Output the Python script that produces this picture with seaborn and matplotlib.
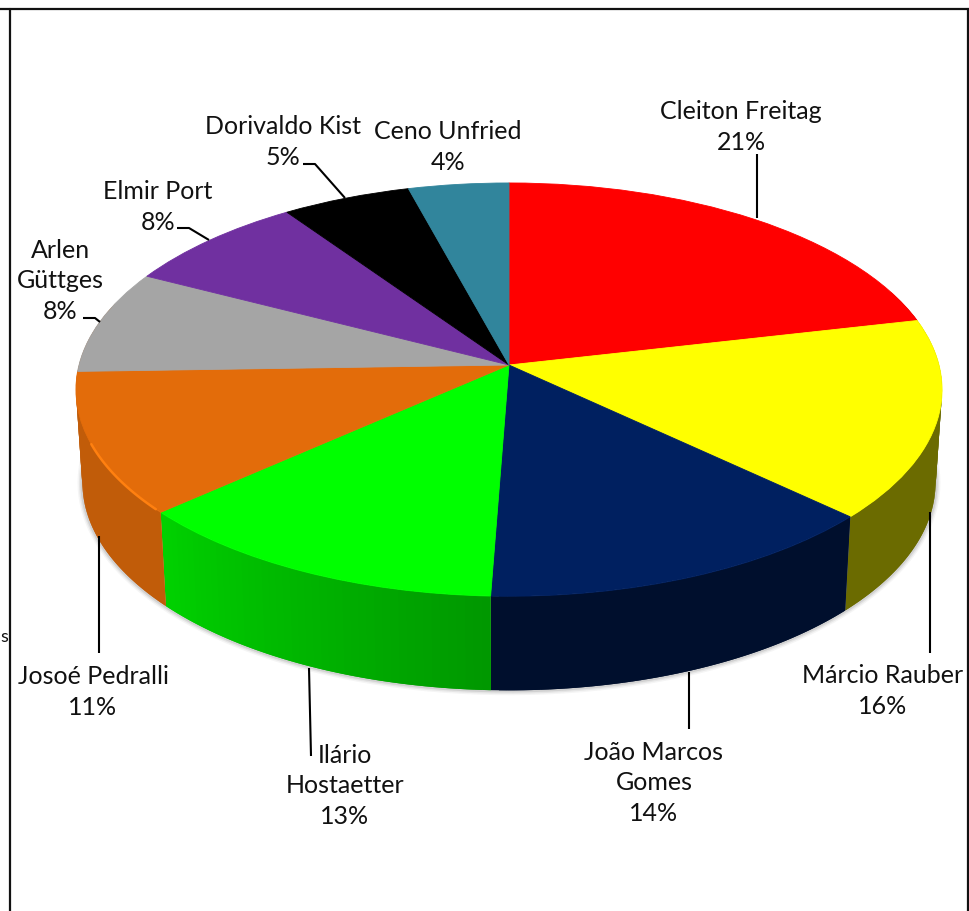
import numpy as np
import matplotlib
matplotlib.use("Agg")
import matplotlib.pyplot as plt
from matplotlib.collections import PolyCollection
from matplotlib.transforms import Transform
import seaborn as sns

# values, labels show them rounded
names = ["Cleiton Freitag", "Márcio Rauber", "João Marcos\nGomes", "Ilário\nHostaetter",
         "Josoé Pedralli", "Arlen\nGüttges", "Elmir Port", "Dorivaldo Kist", "Ceno Unfried"]
shares = [21.4, 15.6, 13.6, 12.8, 11.1, 8.1, 7.8, 5.4, 4.2]
colors = ["#FF0000", "#FFFF00", "#002060", "#00FF00", "#E36C0A", "#A5A5A5", "#7030A0", "#000000", "#31859C"]

# darkening of the side wall at start/end of every slice
wall_start = [0.45, 0.42, 0.47, 0.59, 0.85]
wall_end = [0.45, 0.42, 0.47, 0.82, 0.85]

# pixel layout of the labels and leader lines
label_pos = [(741, 127), (883, 691), (654, 783), (345, 786), (93, 692), (60, 281), (158, 207), (283, 142), (448, 147)]
leaders = [
    [(757, 155), (757, 219)],
    [(930, 513), (930, 654)],
    [(689, 673), (689, 730)],
    [(309, 669), (311, 757)],
    [(99, 537), (99, 654)],
    [(83, 319), (95, 319), (100, 323)],
    [(177, 229), (189, 229), (209, 241)],
    [(303, 165), (315, 165), (345, 199)],
]

CX, CY = 509, 366
RX, RY, TILT = 430, 203.7, 0.119
DEPTH = 93
STEP = 1.0


def project(px, py):
    v = -py
    w = 1 - TILT * v
    return CX + RX * px / w, CY + RY * v / w


class Tilt(Transform):
    # unit pie -> screen pixels, with the perspective of the old 3d chart
    input_dims = 2
    output_dims = 2

    def transform_non_affine(self, values):
        values = np.asarray(values)
        x, y = project(values[:, 0], values[:, 1])
        return np.column_stack([x, y])


def wall_point(phi, depth):
    x, y = project(np.sin(np.radians(phi)), np.cos(np.radians(phi)))
    return CX + (x - CX) * (1 - 0.015 * depth), CY + (y - CY) * (1 + 0.005 * depth) + DEPTH * depth


sns.set_theme(style="white")
plt.rcParams["font.family"] = ["Lato", "DejaVu Sans"]

fig = plt.figure(figsize=(9.7, 9.12), dpi=100)
ax = fig.add_axes([0, 0, 1, 1])

palette = sns.color_palette(colors)
edges = np.concatenate([[0], np.cumsum(shares)]) * 360 / np.sum(shares)

# soft shadow under the wall
arc = np.linspace(78, 284, 200)
sx, sy = wall_point(arc, 1)
for lw, alpha in [(7, 0.05), (5, 0.08), (3, 0.12)]:
    ax.plot(sx, sy, color="#404040", lw=lw, alpha=alpha, zorder=1, solid_capstyle="round")

# side wall in thin strips, each one laid over the one before so no seams show
quads, quad_colors = [], []
for i in range(5):
    col = palette[i]
    stop = edges[i + 1] + 20 if i == 4 else edges[i + 1]  # orange wall wraps round the left end
    steps = np.arange(edges[i], stop + STEP, STEP)
    steps[-1] = stop
    shade = np.linspace(wall_start[i], wall_end[i], len(steps) - 1)
    for j in range(len(steps) - 1):
        a, b = steps[max(j - 1, 0)], steps[j + 1]
        if b < 70:
            continue
        quads.append([wall_point(a, 0), wall_point(b, 0), wall_point(b, 1), wall_point(a, 1)])
        quad_colors.append(tuple(c * shade[j] for c in col))
ax.add_collection(PolyCollection(quads, facecolors=quad_colors, edgecolors="none", zorder=2))

# top face
wedges, _ = ax.pie(shares, colors=palette, startangle=90, counterclock=False, radius=1,
                   wedgeprops={"linewidth": 0.6})
tilt = Tilt() + ax.transData
for w in wedges:
    w.set_edgecolor(w.get_facecolor())
    w.set_transform(tilt)
    w.set_zorder(3)

# light rim on the orange slice
arc = np.linspace(edges[4] + 1, edges[5] - 20, 60)
rx, ry = wall_point(arc, 0)
ax.plot(rx, ry, color="#FF8010", lw=1.8, zorder=4)

ax.set_aspect("auto")
ax.set_xlim(0, 970)
ax.set_ylim(912, 0)
ax.axis("off")

for name, share, (x, y) in zip(names, shares, label_pos):
    ax.text(x, y, f"{name}\n{share:.0f}%", ha="center", va="center", fontsize=18,
            color="#111111", linespacing=1.37, zorder=6)
ax.text(8, 637, "s", ha="right", va="center", fontsize=13, color="#111111", zorder=6)

for line in leaders:
    xs, ys = zip(*line)
    ax.plot(xs, ys, color="black", lw=1.5, zorder=5, solid_capstyle="butt")

# frame of the pasted chart
ax.plot([0, 970], [10, 10], color="#111111", lw=1.6, zorder=7)
ax.plot([10, 10], [10, 912], color="#111111", lw=1.6, zorder=7)
ax.plot([968.5, 968.5], [10, 912], color="#111111", lw=1.6, zorder=7)

fig.savefig("out.png", dpi=100)
plt.close(fig)
